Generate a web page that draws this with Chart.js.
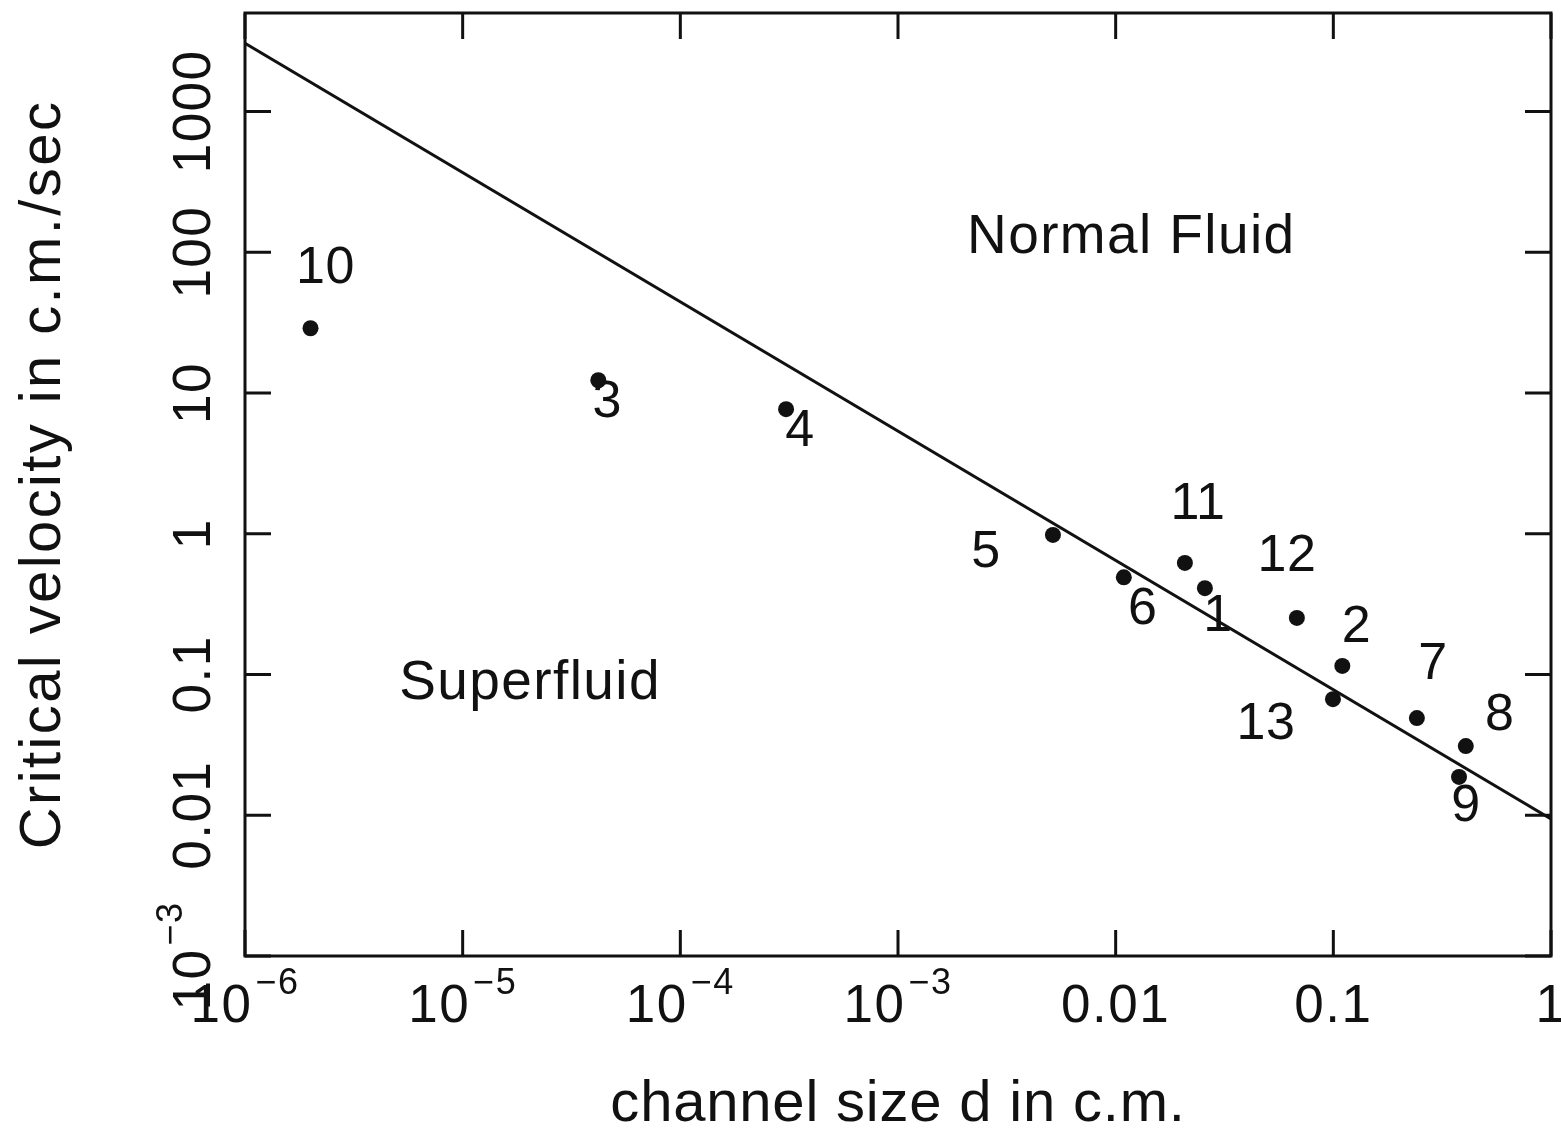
<!DOCTYPE html>
<html>
<head>
<meta charset="utf-8">
<title>Critical velocity vs channel size</title>
<script src="https://cdn.jsdelivr.net/npm/chart.js@4.4.1/dist/chart.umd.min.js"></script>
<style>
  html, body { margin: 0; padding: 0; background: #fff; }
  canvas { display: block; }
</style>
</head>
<body>
<canvas id="chart" width="1561" height="1133"></canvas>
<script>
// measured points, numbered like in the original figure
const pointNames = ['10', '3', '4', '5', '6', '11', '1', '12', '2', '13', '7', '8', '9'];
const channelSize = [2.0e-6, 4.2e-5, 3.06e-4, 5.15e-3, 0.0109, 0.0208, 0.0257, 0.068, 0.110, 0.0996, 0.242, 0.406, 0.378];
const critVelocity = [28.8, 12.3, 7.67, 0.98, 0.49, 0.62, 0.41, 0.252, 0.115, 0.0668, 0.049, 0.031, 0.0187];

// boundary between the two regions
const lineX = [1e-6, 1];
const lineY = [3050, 0.0094];

const xTicks = [1e-6, 1e-5, 1e-4, 1e-3, 0.01, 0.1, 1];
const xTickBase = ['10', '10', '10', '10', '0.01', '0.1', '1'];
const xTickExp = ['\u22126', '\u22125', '\u22124', '\u22123', '', '', ''];

const yTicks = [1e-3, 0.01, 0.1, 1, 10, 100, 1000];
const yTickBase = ['10', '0.01', '0.1', '1', '10', '100', '1000'];
const yTickExp = ['\u22123', '', '', '', '', '', ''];

const regionNames = ['Normal Fluid', 'Superfluid'];
const regionX = [0.0118, 2.04e-5];
const regionY = [126, 0.0855];

const xTitle = 'channel size d in c.m.';
const yTitle = 'Critical velocity in c.m./sec';

const FONT = "'Liberation Sans', Arial, sans-serif";
const INK = '#111';

// label offsets in px from each point (same order as pointNames)
const labelOffsets = [[15, -60], [9, 22], [14, 23], [-67, 18], [19, 32], [13, -58], [13, 28],
                      [-10, -61], [14, -38], [-67, 26], [16, -53], [34, -30], [7, 30]];

function drawSup(ctx, base, exp) {
    // text centred on 0, baseline at 0
    ctx.letterSpacing = '1.5px';
    ctx.font = '53px ' + FONT;
    const wb = ctx.measureText(base).width;
    ctx.font = '36px ' + FONT;
    const we = exp ? ctx.measureText(exp).width + 3 : 0;
    const x0 = -(wb + we) / 2;
    ctx.textAlign = 'left';
    ctx.textBaseline = 'alphabetic';
    ctx.font = '53px ' + FONT;
    ctx.fillText(base, x0, 0);
    if (exp) {
        ctx.font = '36px ' + FONT;
        ctx.fillText(exp, x0 + wb + 3, -28);
    }
}

const framePlugin = {
    id: 'frame',
    afterDatasetsDraw(chart) {
        const ctx = chart.ctx;
        const a = chart.chartArea;
        const xs = chart.scales.x, ys = chart.scales.y;
        ctx.save();
        ctx.strokeStyle = INK;
        ctx.fillStyle = INK;
        ctx.lineWidth = 3;
        ctx.strokeRect(a.left, a.top, a.right - a.left, a.bottom - a.top);

        // inward ticks on all four sides
        const len = 26;
        ctx.beginPath();
        xTicks.forEach(v => {
            const px = xs.getPixelForValue(v);
            ctx.moveTo(px, a.bottom); ctx.lineTo(px, a.bottom - len);
            ctx.moveTo(px, a.top); ctx.lineTo(px, a.top + len);
        });
        yTicks.forEach(v => {
            const py = ys.getPixelForValue(v);
            ctx.moveTo(a.left, py); ctx.lineTo(a.left + len, py);
            ctx.moveTo(a.right, py); ctx.lineTo(a.right - len, py);
        });
        ctx.stroke();

        // tick labels
        xTicks.forEach((v, i) => {
            ctx.save();
            ctx.translate(xs.getPixelForValue(v), a.bottom + 66);
            drawSup(ctx, xTickBase[i], xTickExp[i]);
            ctx.restore();
        });
        yTicks.forEach((v, i) => {
            ctx.save();
            ctx.translate(a.left - 35, ys.getPixelForValue(v));
            ctx.rotate(-Math.PI / 2);
            drawSup(ctx, yTickBase[i], yTickExp[i]);
            ctx.restore();
        });

        // axis titles
        ctx.textAlign = 'center';
        ctx.textBaseline = 'alphabetic';
        ctx.font = '58px ' + FONT;
        ctx.letterSpacing = '0.8px';
        ctx.fillText(xTitle, (a.left + a.right) / 2, 1121);
        ctx.save();
        ctx.translate(60, (a.top + a.bottom) / 2 - 10);
        ctx.rotate(-Math.PI / 2);
        ctx.letterSpacing = '2.4px';
        ctx.fillText(yTitle, 0, 0);
        ctx.restore();

        // point numbers
        ctx.font = '52px ' + FONT;
        ctx.letterSpacing = '0.5px';
        ctx.textAlign = 'center';
        ctx.textBaseline = 'middle';
        pointNames.forEach((name, i) => {
            const px = xs.getPixelForValue(channelSize[i]);
            const py = ys.getPixelForValue(critVelocity[i]);
            ctx.fillText(name, px + labelOffsets[i][0], py + labelOffsets[i][1]);
        });

        // region names
        ctx.font = '55px ' + FONT;
        ctx.letterSpacing = '1.4px';
        regionNames.forEach((name, i) => {
            ctx.fillText(name, xs.getPixelForValue(regionX[i]), ys.getPixelForValue(regionY[i]));
        });
        ctx.restore();
    }
};

Chart.defaults.font.family = FONT;
Chart.defaults.color = INK;

new Chart(document.getElementById('chart'), {
    type: 'scatter',
    data: {
        datasets: [
            {
                label: 'boundary',
                data: lineX.map((x, i) => ({ x: x, y: lineY[i] })),
                showLine: true,
                borderColor: INK,
                borderWidth: 3,
                pointRadius: 0
            },
            {
                label: 'measurements',
                data: channelSize.map((x, i) => ({ x: x, y: critVelocity[i] })),
                backgroundColor: INK,
                borderColor: INK,
                pointRadius: 8,
                borderWidth: 0
            }
        ]
    },
    options: {
        responsive: false,
        animation: false,
        layout: { padding: { top: 13, right: 10, left: 0, bottom: 0 } },
        plugins: {
            legend: { display: false },
            tooltip: { enabled: false }
        },
        scales: {
            x: {
                type: 'logarithmic',
                min: 1e-6,
                max: 1,
                afterBuildTicks: s => { s.ticks = xTicks.map(v => ({ value: v })); },
                afterFit: s => { s.height = 177; },
                ticks: { display: false },
                grid: { display: false },
                border: { display: false }
            },
            y: {
                type: 'logarithmic',
                min: 1e-3,
                max: 5000,
                afterBuildTicks: s => { s.ticks = yTicks.map(v => ({ value: v })); },
                afterFit: s => { s.width = 245; },
                ticks: { display: false },
                grid: { display: false },
                border: { display: false }
            }
        }
    },
    plugins: [framePlugin]
});
</script>
</body>
</html>
